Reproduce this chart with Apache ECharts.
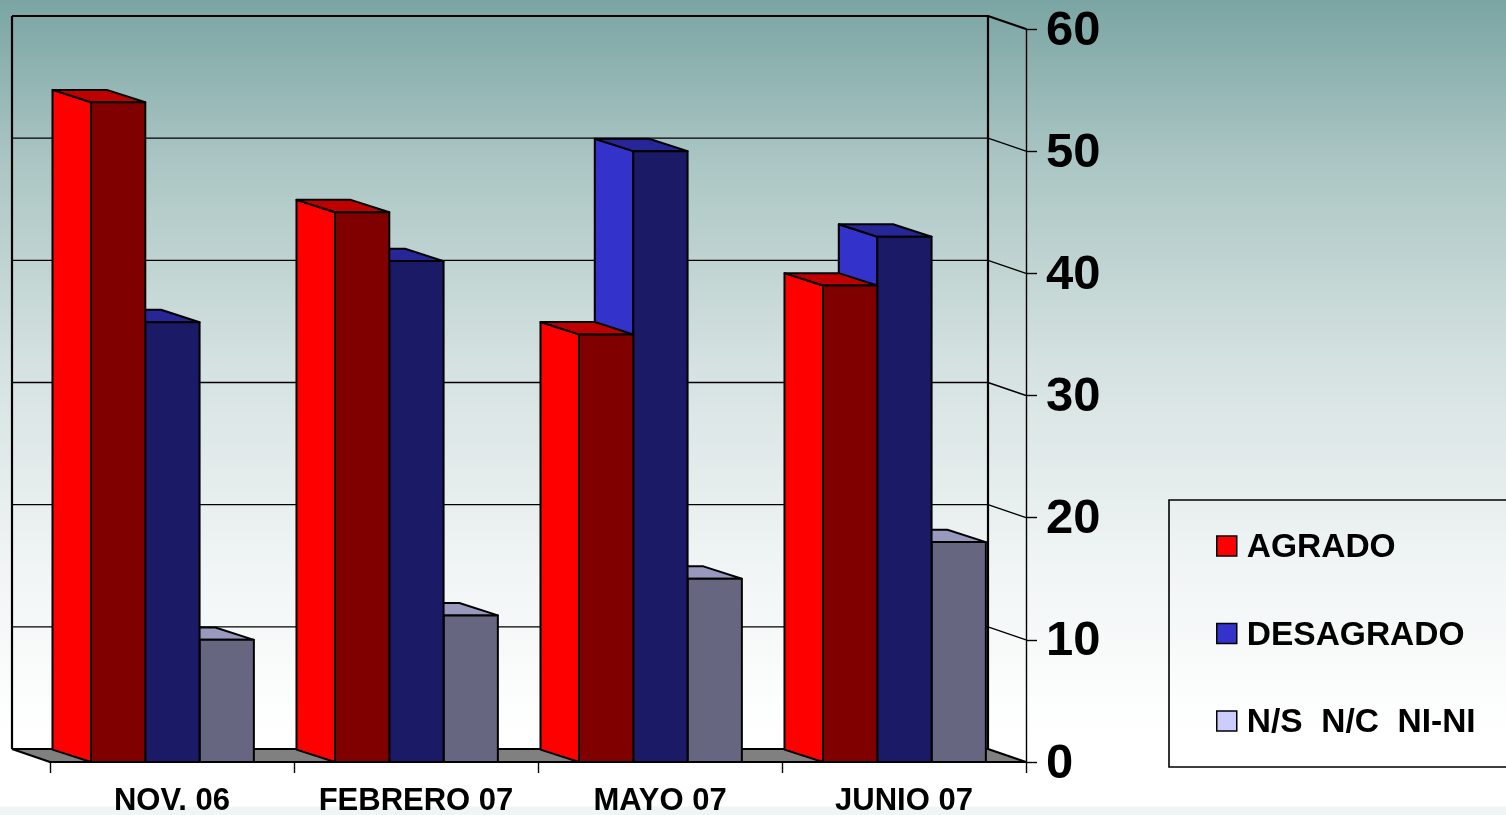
<!DOCTYPE html>
<html>
<head>
<meta charset="utf-8">
<style>html,body{margin:0;padding:0;background:#eff5f5}#c{width:1506px;height:815px}</style>
<script src="https://cdn.jsdelivr.net/npm/echarts@6/dist/echarts.min.js"></script>
</head>
<body>
<div id="c"></div>
<script>
const categories = ['NOV. 06', 'FEBRERO 07', 'MAYO 07', 'JUNIO 07'];
const agrado = [54, 45, 35, 39];
const desagrado = [36, 41, 50, 43];
const nsnc = [10, 12, 15, 18];
const yTicks = [0, 10, 20, 30, 40, 50, 60];
const seriesNames = ['AGRADO', 'DESAGRADO', 'N/S  N/C  NI-NI'];

const DX = 38, DY = 13;
const BDX = 38.5, BDY = 12.4;
const FONT = '"Liberation Sans", Arial, sans-serif';

function barRenderer(pos, side, top, front) {
  return function (params, api) {
    const base = api.coord([api.value(0), 0]);
    const head = api.coord([api.value(0), api.value(1)]);
    const band = api.size([1, 0])[0];
    const bw = band * 0.2225;
    const x0 = base[0] - band / 2 + band * 0.168 + pos * bw;
    const x1 = x0 + bw;
    const y0 = base[1], y1 = head[1];
    const st = { stroke: '#000', lineWidth: 2, lineJoin: 'round' };
    return {
      type: 'group',
      children: [
        { type: 'polygon', shape: { points: [[x0 - BDX, y1 - BDY], [x0, y1], [x0, y0], [x0 - BDX, y0 - BDY]] }, style: Object.assign({ fill: side }, st) },
        { type: 'polygon', shape: { points: [[x0 - BDX, y1 - BDY], [x1 - BDX, y1 - BDY], [x1, y1], [x0, y1]] }, style: Object.assign({ fill: top }, st) },
        { type: 'polygon', shape: { points: [[x0, y1], [x1, y1], [x1, y0], [x0, y0]] }, style: Object.assign({ fill: front }, st) }
      ]
    };
  };
}

function frameRenderer(params, api) {
  const cs = params.coordSys;
  const t = api.value(1);
  const y = api.coord([0, t])[1];
  const L = cs.x, R = cs.x + cs.width;
  const thick = { stroke: '#000', lineWidth: 2.2, fill: 'none', lineJoin: 'round' };
  const thin = { stroke: '#000', lineWidth: 1.4, fill: 'none', lineJoin: 'round' };
  const children = [];
  const isEdge = t === yTicks[0] || t === yTicks[yTicks.length - 1];
  if (t === yTicks[0]) {
    children.push({ type: 'polygon', shape: { points: [[L - DX, y - DY], [R - DX, y - DY], [R, y], [L, y]] }, style: { fill: '#808080' } });
    children.push({ type: 'polyline', shape: { points: [[L, y], [L - DX, y - DY]] }, style: thick });
    children.push({ type: 'line', shape: { x1: R - DX, y1: cs.y - DY, x2: R - DX, y2: y - DY }, style: thick });
    children.push({ type: 'line', shape: { x1: L - DX, y1: cs.y - DY, x2: L - DX, y2: y - DY }, style: thick });
  }
  children.push({ type: 'polyline', shape: { points: [[L - DX, y - DY], [R - DX, y - DY], [R, y]] }, style: isEdge ? thick : thin });
  return { type: 'group', children };
}

function barSeries(name, values, pos, side, top, front) {
  return {
    name, type: 'custom', z: 6 - pos,
    itemStyle: { color: side },
    renderItem: barRenderer(pos, side, top, front),
    encode: { x: 0, y: 1 },
    data: values.map((v, i) => [i, v]),
    animation: false, silent: true
  };
}

const chart = echarts.init(document.getElementById('c'), null, { renderer: 'canvas', width: 1506, height: 815 });
chart.setOption({
  animation: false,
  backgroundColor: {
    type: 'linear', x: 0, y: 0, x2: 0, y2: 1,
    colorStops: [
      { offset: 0, color: '#7aa5a3' },
      { offset: 0.2, color: '#abc6c4' },
      { offset: 0.45, color: '#d5e2e1' },
      { offset: 0.7, color: '#f1f5f5' },
      { offset: 0.9, color: '#ffffff' },
      { offset: 0.989, color: '#ffffff' },
      { offset: 0.99, color: '#eff5f5' },
      { offset: 1, color: '#eff5f5' }
    ]
  },
  grid: { left: 50, top: 29, width: 976, height: 733, containLabel: false, outerBoundsMode: 'none' },
  xAxis: {
    type: 'category', data: categories, position: 'bottom', z: 10,
    axisLine: { show: true, lineStyle: { color: '#000', width: 2 } },
    axisTick: { show: true, alignWithLabel: false, length: 11, lineStyle: { color: '#000', width: 1.4 } },
    axisLabel: { color: '#000', fontFamily: FONT, fontWeight: 'bold', fontSize: 31, margin: 24, interval: 0 },
    splitLine: { show: false }
  },
  yAxis: {
    type: 'value', position: 'right', min: 0, max: 60, interval: 10, z: 10,
    axisLine: { show: true, lineStyle: { color: '#000', width: 1.4 } },
    axisTick: { show: true, length: 11, lineStyle: { color: '#000', width: 1.4 } },
    axisLabel: {
      margin: 20, formatter: v => '{a|' + v + '}',
      rich: { a: { color: '#000', fontFamily: FONT, fontWeight: 'bold', fontSize: 49, padding: [4, 0, 0, 0] } }
    },
    splitLine: { show: false }
  },
  legend: {
    show: true, orient: 'vertical', left: 1169, top: 500,
    data: seriesNames, icon: 'rect', itemWidth: 20, itemHeight: 20, itemGap: 53.5, selectedMode: false,
    padding: [31, 60, 27, 47],
    borderColor: '#000', borderWidth: 1.6,
    itemStyle: { borderColor: '#000', borderWidth: 1.5 },
    formatter: n => '{a|' + n + '}',
    textStyle: {
      rich: { a: { color: '#000', fontFamily: FONT, fontWeight: 'bold', fontSize: 33.5, padding: [4, 0, 0, 5] } }
    }
  },
  series: [
    { name: 'frame', type: 'custom', z: 1, renderItem: frameRenderer, encode: { x: 0, y: 1 }, data: yTicks.map(t => [0, t]), silent: true },
    barSeries(seriesNames[2], nsnc, 2, '#ccccff', '#9999bf', '#666680'),
    barSeries(seriesNames[1], desagrado, 1, '#3333cc', '#262699', '#1a1a66'),
    barSeries(seriesNames[0], agrado, 0, '#ff0000', '#bf0000', '#800000')
  ]
});
</script>
</body>
</html>
